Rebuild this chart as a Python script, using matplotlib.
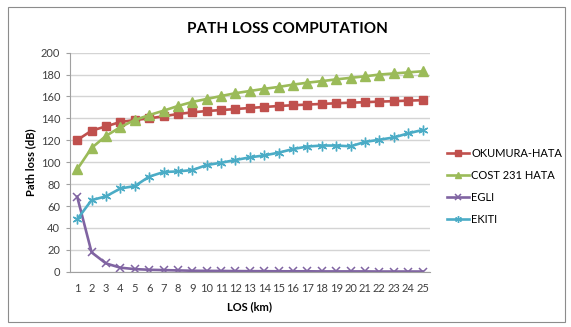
import matplotlib.pyplot as plt
from matplotlib.patches import Rectangle

plt.rcParams['font.family'] = ['Lato', 'DejaVu Sans']

los_km = list(range(1, 26))

okumura_hata = [120.2, 128.8, 132.7, 136.7, 138.5, 140.0, 141.9, 144.0, 145.5, 146.7,
                147.6, 148.5, 149.5, 150.4, 151.3, 152.0, 152.6, 153.2, 153.8, 154.3,
                154.8, 155.3, 155.7, 156.2, 156.6]
cost231_hata = [93.5, 113.0, 124.0, 132.0, 138.5, 143.0, 147.0, 151.3, 155.0, 157.7,
                160.4, 163.0, 165.0, 167.0, 168.7, 170.8, 172.6, 174.0, 175.6, 177.0,
                178.4, 180.0, 181.0, 182.0, 183.0]
egli = [68.5, 17.7, 7.6, 3.7, 2.4, 1.8, 1.5, 1.2, 0.9, 0.8,
        0.7, 0.6, 0.5, 0.5, 0.4, 0.4, 0.4, 0.3, 0.3, 0.3,
        0.3, 0.2, 0.2, 0.2, 0.2]
ekiti = [47.8, 65.4, 68.8, 76.0, 78.2, 86.8, 91.0, 91.6, 92.8, 97.4,
         99.5, 102.0, 104.4, 106.2, 108.7, 112.0, 114.3, 115.2, 115.2, 114.5,
         118.5, 120.5, 122.6, 126.3, 129.4]

fig = plt.figure(figsize=(5.71, 3.27), dpi=100)
ax = fig.add_axes([0.1226, 0.169, 0.630, 0.670])

# outer chart border
fig.patches.append(Rectangle((8 / 571, 5 / 327), 557 / 571, 315 / 327,
                             transform=fig.transFigure, fill=False,
                             edgecolor='#8c8c8c', linewidth=0.8))

ax.plot(los_km, okumura_hata, color='#C0504D', lw=1.9, marker='s', ms=6,
        label='OKUMURA-HATA')
ax.plot(los_km, cost231_hata, color='#9BBB59', lw=1.9, marker='^', ms=7,
        label='COST 231 HATA')
ax.plot(los_km, egli, color='#8064A2', lw=1.9, marker='x', ms=6, mew=1.1,
        label='EGLI')
ax.plot(los_km, ekiti, color='#4BACC6', lw=1.9, marker=(6, 2, 0), ms=7, mew=1.0,
        label='EKITI')

ax.set_xlim(0.5, 25.5)
ax.set_ylim(0, 200)
ax.set_xticks(los_km)
ax.set_yticks(range(0, 201, 20))
ax.tick_params(axis='x', length=0, labelsize=8, colors='#404040', pad=8)
ax.tick_params(axis='y', length=3, labelsize=8, colors='#404040', pad=4)
ax.tick_params(axis='y', color='#a0a0a0')
ax.grid(axis='y', color='#d4d4d4', lw=1)
ax.set_axisbelow(True)
for side in ['top', 'right']:
    ax.spines[side].set_visible(False)
for side in ['left', 'bottom']:
    ax.spines[side].set_color('#a0a0a0')

ax.set_xlabel('LOS (km)', fontsize=8, fontweight='bold', labelpad=5)
ax.set_ylabel('Path loss (dB)', fontsize=8, fontweight='bold', labelpad=3)
fig.text(0.503, 0.91, 'PATH LOSS COMPUTATION', ha='center', va='center',
         fontsize=11, fontweight='bold')

ax.legend(loc='upper left', bbox_to_anchor=(0.775, 0.562),
          bbox_transform=fig.transFigure, frameon=False, fontsize=8,
          handlelength=2.0, handletextpad=0.2, labelspacing=1.0,
          markerscale=0.7, borderaxespad=0)

fig.savefig('out.png', dpi=100)
